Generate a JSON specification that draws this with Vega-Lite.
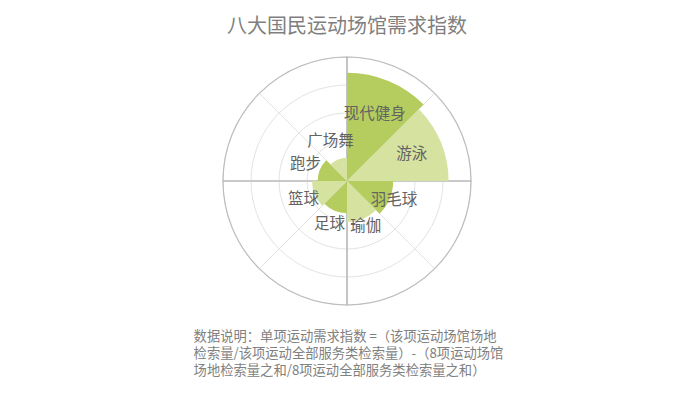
{
  "$schema": "https://vega.github.io/schema/vega-lite/v6.json",
  "background": "white",
  "padding": {"left": 193, "top": 16, "right": 5, "bottom": 5},
  "config": {"view": {"stroke": null}, "font": "Noto Sans CJK SC"},
  "datasets": {
    "sports": [
      {"sport": "现代健身", "idx": 1, "value": 1.72},
      {"sport": "游泳", "idx": 2, "value": 1.60},
      {"sport": "羽毛球", "idx": 3, "value": 0.61},
      {"sport": "瑜伽", "idx": 4, "value": 0.52},
      {"sport": "足球", "idx": 5, "value": 0.36},
      {"sport": "篮球", "idx": 6, "value": 0.41},
      {"sport": "跑步", "idx": 7, "value": 0.31},
      {"sport": "广场舞", "idx": 8, "value": 0.2}
    ],
    "oct": [{"k": 1}, {"k": 2}, {"k": 3}, {"k": 4}, {"k": 5}, {"k": 6}, {"k": 7}, {"k": 8}],
    "quad": [{"k": 1}, {"k": 2}, {"k": 3}, {"k": 4}],
    "rings": [{"ring": 0.5}, {"ring": 1}, {"ring": 1.5}]
  },
  "title": {
    "text": ["数据说明：单项运动需求指数 =（该项运动场馆场地", "检索量/该项运动全部服务类检索量）-（8项运动场馆", "场地检索量之和/8项运动全部服务类检索量之和）"],
    "orient": "bottom",
    "anchor": "start",
    "align": "left",
    "fontSize": 13.3,
    "fontWeight": "normal",
    "color": "#808080",
    "lineHeight": 17,
    "offset": 23,
    "dx": -27
  },
  "vconcat": [
    {
      "width": 248,
      "height": 248,
      "title": {
        "text": "八大国民运动场馆需求指数",
        "fontSize": 20,
        "fontWeight": "normal",
        "color": "#7f7f7f",
        "anchor": "middle",
        "offset": 18
      },
      "resolve": {"scale": {"radius": "independent", "theta": "independent", "color": "independent"}},
      "layer": [
        {
          "data": {"name": "oct"},
          "transform": [
            {"aggregate": [{"op": "count", "as": "n"}], "groupby": ["k"]},
            {"stack": "n", "groupby": [], "sort": [{"field": "k"}], "as": ["t0", "t1"]}
          ],
          "mark": {"type": "arc", "filled": false, "stroke": "#e3e3e3", "strokeWidth": 1},
          "encoding": {
            "theta": {"field": "t0", "type": "quantitative", "scale": {"domain": [0, 8]}},
            "theta2": {"field": "t1"},
            "radius": {"datum": 2, "type": "quantitative", "stack": null, "scale": {"type": "linear", "domain": [0, 2], "range": [12, 124], "zero": false}},
            "radius2": {"value": 0}
          }
        },
        {
          "data": {"name": "rings"},
          "mark": {"type": "arc", "filled": false, "stroke": "#e3e3e3", "strokeWidth": 1},
          "encoding": {
            "radius": {"field": "ring", "type": "quantitative", "stack": null, "scale": {"type": "linear", "domain": [0, 2], "range": [12, 124], "zero": false}},
            "radius2": {"value": 0}
          }
        },
        {
          "data": {"name": "quad"},
          "transform": [
            {"aggregate": [{"op": "count", "as": "n"}], "groupby": ["k"]},
            {"stack": "n", "groupby": [], "sort": [{"field": "k"}], "as": ["t0", "t1"]}
          ],
          "mark": {"type": "arc", "filled": false, "stroke": "#bdbdbd", "strokeWidth": 1.2},
          "encoding": {
            "theta": {"field": "t0", "type": "quantitative", "scale": {"domain": [0, 4]}},
            "theta2": {"field": "t1"},
            "radius": {"datum": 2, "type": "quantitative", "stack": null, "scale": {"type": "linear", "domain": [0, 2], "range": [12, 124], "zero": false}},
            "radius2": {"value": 0}
          }
        },
        {
          "data": {"name": "sports"},
          "transform": [
            {"aggregate": [{"op": "count", "as": "n"}], "groupby": ["sport", "idx", "value"]},
            {"stack": "n", "groupby": [], "sort": [{"field": "idx"}], "as": ["t0", "t1"]}
          ],
          "mark": {"type": "arc"},
          "encoding": {
            "theta": {"field": "t0", "type": "quantitative", "scale": {"domain": [0, 8]}},
            "theta2": {"field": "t1"},
            "radius": {"field": "value", "type": "quantitative", "stack": null, "scale": {"type": "linear", "domain": [0, 2], "range": [12, 124], "zero": false}},
            "radius2": {"value": 0},
            "color": {
              "field": "sport", "type": "nominal", "legend": null,
              "scale": {
                "domain": ["现代健身", "游泳", "羽毛球", "瑜伽", "足球", "篮球", "跑步", "广场舞"],
                "range": ["#b5cd5f", "#d5e2a0", "#b5cd5f", "#d5e2a0", "#b5cd5f", "#d5e2a0", "#b5cd5f", "#d5e2a0"]
              }
            }
          }
        },
        {
          "data": {"name": "sports"},
          "transform": [
            {"aggregate": [{"op": "count", "as": "n"}], "groupby": ["sport", "idx", "value"]},
            {"stack": "n", "groupby": [], "sort": [{"field": "idx"}], "as": ["t0", "t1"]}
          ],
          "mark": {"type": "text", "fontSize": 15.5, "fill": "#636363", "align": "center", "baseline": "middle", "thetaOffset": 0.3927},
          "encoding": {
            "theta": {"field": "t0", "type": "quantitative", "scale": {"domain": [0, 8]}},
            "radius": {"field": "value", "type": "quantitative", "stack": null, "scale": {"type": "linear", "domain": [0, 2], "range": [39, 78], "zero": false}},
            "text": {"field": "sport", "type": "nominal"}
          }
        }
      ]
    }
  ]
}
